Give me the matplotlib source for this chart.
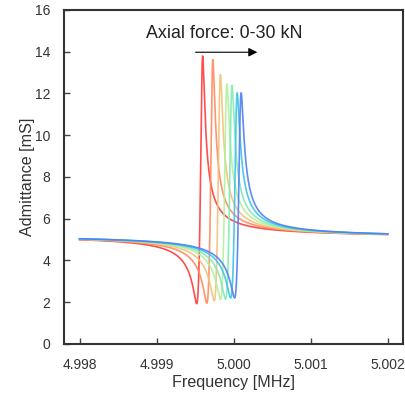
import numpy as np
import matplotlib
matplotlib.use('Agg')
import matplotlib.pyplot as plt

plt.rcParams['font.family'] = ['Liberation Sans', 'DejaVu Sans']

# resonance data (one entry per axial force step)
res_freq = [4.999588, 4.999720, 4.999817, 4.999900, 4.999966, 5.000033, 5.000084]  # MHz
motional_g = [11.86, 11.67, 10.84, 10.32, 10.24, 9.82, 9.82]  # mS, diameter of the admittance circle
line_colors = ['#ff3b3b', '#ff8a5c', '#f2c27a', '#b4f09c', '#82eab4', '#3cc4e6', '#4f7ff5']

# static branch and motional slope
base_b = 5.15      # mS
base_slope = -17.0  # mS / MHz
react_k = 3300.0   # 1/mS per MHz

f_min, f_max = 4.998, 5.002
xticks = [4.998, 4.999, 5.000, 5.001, 5.002]
yticks = [0, 2, 4, 6, 8, 10, 12, 14, 16]

freq = np.linspace(f_min, f_max, 40001)

fig = plt.figure(figsize=(4.06, 3.94), dpi=100)
ax = fig.add_axes([0.158, 0.127, 0.835, 0.848])

for fs, g, c in zip(res_freq, motional_g, line_colors):
    y_static = -1j * (base_b + base_slope * (freq - 5.0))
    y_motional = 1.0 / (1.0 / g + 1j * react_k * (freq - fs))
    adm = np.abs(y_static + y_motional)
    ax.plot(freq, adm, color=c, lw=1.2, alpha=0.9)

ax.set_xlim(f_min - 0.0002, f_max + 0.0002)
ax.set_ylim(0, 16)
ax.set_xticks(xticks)
ax.set_xticklabels(['%.3f' % t for t in xticks])
ax.set_yticks(yticks)
ax.tick_params(direction='in', length=4, width=1, colors='#444444', labelsize=10,
               labelcolor='#333333')
ax.tick_params(axis='x', pad=10)
ax.tick_params(axis='y', pad=10)
for s in ax.spines.values():
    s.set_linewidth(1.5)
    s.set_color('#333333')

ax.set_xlabel('Frequency [MHz]', fontsize=11.6, color='#333333', labelpad=2)
ax.set_ylabel('Admittance [mS]', fontsize=11.6, color='#333333', labelpad=0)

ax.annotate('', xy=(5.000343, 13.97), xytext=(4.999470, 13.97),
            arrowprops=dict(arrowstyle='-|>', color='black', lw=0.8, mutation_scale=13))
ax.text(4.999878, 14.88, 'Axial force: 0-30 kN', ha='center', va='center',
        fontsize=12.9, color='#222222')

fig.savefig('out.png', dpi=100)
